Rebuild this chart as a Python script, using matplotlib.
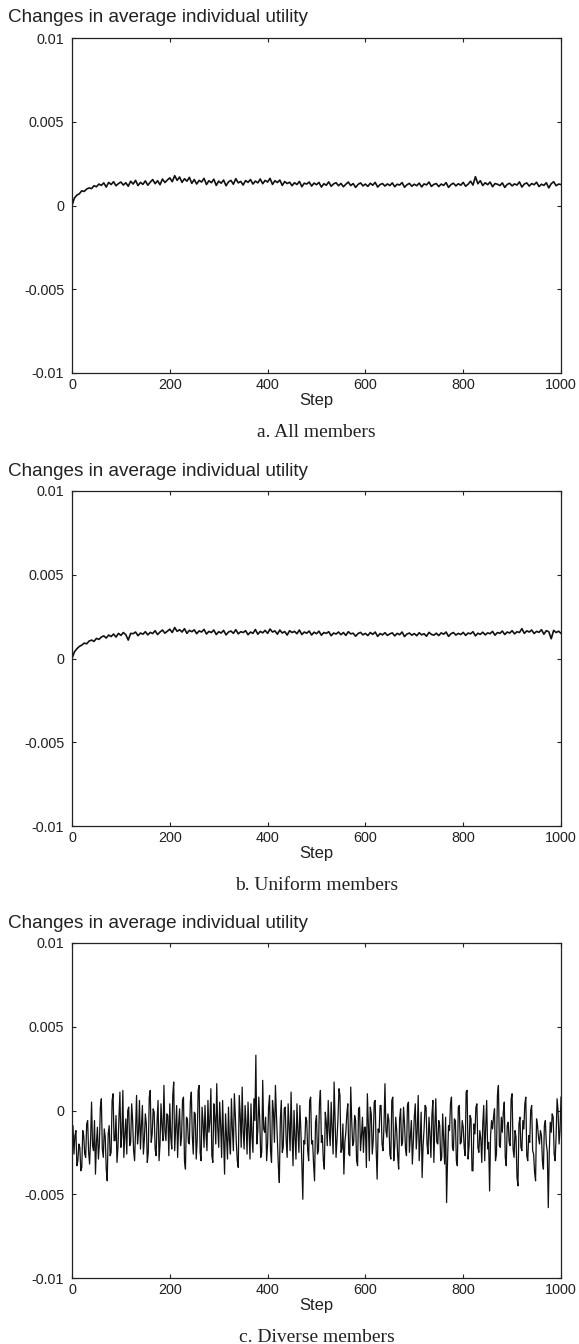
import numpy as np
import matplotlib
matplotlib.use("Agg")
import matplotlib.pyplot as plt

plt.rcParams['font.family'] = ['Liberation Sans', 'DejaVu Sans']

# values in units of 1e-5
all_members = [
    0, 45, 62, 70, 88, 84, 98, 105, 101, 118,
    112, 128, 120, 135, 110, 138, 125, 142, 118, 131,
    140, 122, 136, 115, 145, 128, 150, 119, 138, 126,
    147, 121, 139, 155, 130, 148, 124, 158, 137, 152,
    165, 142, 178, 150, 170, 138, 160, 145, 168, 132,
    155, 128, 150, 140, 162, 125, 148, 136, 157, 120,
    146, 133, 152, 118, 141, 150, 127, 160, 135, 144,
    122, 149, 138, 155, 128, 146, 135, 158, 130, 150,
    140, 162, 126, 148, 137, 152, 120, 143, 131, 139,
    118, 136, 125, 144, 112, 133, 128, 140, 116, 134,
    124, 138, 110, 130, 121, 141, 115, 129, 136, 118,
    132, 112, 127, 140, 119, 131, 108, 126, 135, 117,
    128, 114, 133, 121, 138, 110, 125, 131, 116, 129,
    119, 135, 112, 127, 122, 137, 109, 124, 132, 115,
    127, 118, 134, 111, 129, 123, 140, 114, 126, 131,
    113, 128, 120, 137, 108, 125, 133, 117, 130, 121,
    138, 115, 127, 145, 122, 172, 130, 148, 119, 136,
    124, 140, 112, 131, 127, 119, 135, 108, 126, 133,
    117, 129, 122, 141, 110, 128, 135, 116, 131, 124,
    139, 113, 127, 120, 136, 105, 130, 142, 118, 128,
    125,
]

uniform_members = [
    0, 40, 58, 72, 80, 92, 88, 104, 110, 102,
    120, 114, 128, 135, 122, 140, 131, 146, 128, 150,
    138, 155, 142, 110, 150, 148, 158, 136, 152, 145,
    160, 141, 156, 149, 166, 143, 158, 170, 151, 163,
    175, 155, 185, 162, 172, 158, 178, 150, 168, 160,
    171, 148, 165, 158, 174, 146, 162, 155, 170, 143,
    160, 152, 168, 141, 158, 164, 150, 172, 147, 160,
    155, 166, 142, 158, 150, 173, 145, 162, 153, 168,
    150, 176, 158, 165, 145, 170, 152, 161, 140, 166,
    155, 162, 148, 170, 143, 158, 151, 164, 140, 157,
    148, 163, 139, 155, 150, 160, 136, 152, 146, 158,
    142, 155, 138, 160, 147, 151, 133, 149, 156, 141,
    150, 137, 155, 144, 158, 132, 149, 141, 154, 138,
    147, 153, 135, 150, 142, 158, 131, 146, 152, 139,
    149, 136, 154, 141, 148, 133, 156, 144, 139, 151,
    137, 153, 145, 158, 132, 148, 155, 140, 150, 143,
    156, 138, 152, 147, 160, 135, 151, 144, 157, 141,
    153, 148, 162, 139, 155, 150, 164, 143, 158, 152,
    166, 147, 160, 155, 178, 150, 165, 158, 170, 149,
    162, 156, 172, 145, 166, 160, 118, 168, 155, 163,
    150,
]

diverse_members = [
    -180, -90, -260, -150, -120, -330, -300, -200, -220, -360,
    -340, -120, -150, -260, -280, -80, -60, -250, -320, -170,
    50, -210, -240, -60, -380, -190, -100, -290, -200, 20,
    70, -230, -280, -110, -160, -350, -420, -140, -90, -270,
    -250, 60, 100, -180, -180, -30, -310, -220, -40, 110,
    -220, -140, 120, -280, -150, -50, -260, 0, 20, -210,
    -190, 40, -60, -240, -300, -120, 90, -200, -130, 60,
    -230, -90, 30, -260, -170, -20, -80, -310, -250, 80,
    120, -190, -140, 10, -10, -230, -270, -60, 60, -300,
    -200, 40, -90, -180, 150, -120, -180, -20, -30, -270,
    40, -160, -230, 90, 170, -240, -110, 30, -280, -90,
    10, -210, -160, 60, 80, -300, -350, -40, -50, -190,
    -200, 50, 110, -150, -260, -10, -20, -290, -180, 120,
    150, -250, -300, 20, -70, -220, 30, -140, -240, 60,
    -130, -60, 130, -270, -310, 40, -40, -200, 160, -100,
    -220, 50, -90, -280, 60, -150, -380, -20, -150, -290,
    20, -180, -260, 70, -110, -240, 100, -30, -190, -300,
    -340, 90, -30, -220, 140, -120, -230, 30, -80, -260,
    50, -120, -290, 40, -150, -250, 70, -60, 330, -200,
    -120, 80, -60, -280, -250, 180, -110, -130, -40, -300,
    -200, 20, 90, -240, -310, 60, -10, -190, 150, -20,
    -170, -330, -430, -60, 60, -250, -220, 10, 20, -180,
    -280, 40, -90, -240, 110, -140, -330, 0, -160, -290,
    40, -120, -250, 30, -120, -310, -530, -180, -200, -40,
    -60, -240, -300, 60, 80, -200, -180, -320, -420, -70,
    -30, -260, -240, 40, 120, -190, -150, -300, -350, -10,
    -70, -210, 60, -120, -210, 50, -110, -260, 170, -60,
    -280, -170, -40, 130, 90, -250, -230, -80, -380, -190,
    -130, -20, 40, -260, -270, 140, -60, -210, -190, -30,
    -60, -300, -330, 10, 20, -240, -150, -40, -250, -100,
    -100, -340, 100, -80, -300, 20, -20, -260, -180, 50,
    60, -230, -410, -110, -130, 30, 30, -200, -240, -90,
    160, -120, -160, -20, -60, -260, -290, 60, 80, -300,
    -210, -40, -120, -270, -350, -50, 10, -210, -190, 20,
    -80, -230, -270, 30, 50, -250, -150, -60, -320, -190,
    -40, 40, -230, -120, 90, -300, -180, -10, -400, -210,
    -110, 30, 20, -200, -260, -40, -140, -280, -30, 60,
    -310, -100, 70, -190, -200, -60, -90, -300, -280, -20,
    -170, -320, -40, -550, -300, -90, -120, 40, 80, -220,
    -240, -50, -60, -300, -330, 20, 30, -200, -190, -60,
    -100, -220, -270, 110, 120, -290, -210, -30, -50, -360,
    -360, -80, -140, 20, 40, -220, -250, -120, -170, -310,
    -80, 30, -300, -100, 60, -230, -190, -480, -150, -60,
    -110, -40, 10, -300, -260, 90, 150, -210, -220, -40,
    -130, -10, 50, -280, -330, -90, -70, -190, -210, 70,
    100, -230, -280, -120, -160, -400, -450, -80, -40, -220,
    -240, -60, -110, 40, 80, -270, -300, -150, -190, 0,
    30, -240, -260, -370, -420, -50, -90, -160, -200, -120,
    -150, -300, -350, -90, -60, -200, -250, -580, -250, -70,
    -130, -20, -40, -260, -300, -150, 70, 0, -200, -120,
    80,
]

series = [all_members, uniform_members, diverse_members]
widths = [1.2, 1.2, 0.9]
captions = ['a. All members', 'b. Uniform members', 'c. Diverse members']
title = 'Changes in average individual utility'
xticks = [0, 200, 400, 600, 800, 1000]
yticks = [-0.01, -0.005, 0, 0.005, 0.01]
yticklabels = ['-0.01', '-0.005', '0', '0.005', '0.01']

W, H = 579, 1344
fig = plt.figure(figsize=(W / 100, H / 100), dpi=100)
tops = [38, 491, 943]
for k in range(3):
    top = tops[k]
    ax = fig.add_axes([72 / W, 1 - (top + 335) / H, 489 / W, 335 / H])
    vals = np.array(series[k]) * 1e-5
    steps = np.linspace(0, 1000, len(vals))
    ax.plot(steps, vals, color='#111111', lw=widths[k])
    ax.set_xlim(0, 1000)
    ax.set_ylim(-0.01, 0.01)
    ax.set_xticks(xticks)
    ax.set_xticklabels([str(t) for t in xticks])
    ax.set_yticks(yticks)
    ax.set_yticklabels(yticklabels)
    ax.tick_params(direction='in', length=3, width=0.8, top=True, right=True,
                   labelsize=10.4, colors='#222222')
    ax.tick_params(axis='x', pad=3.5)
    ax.tick_params(axis='y', pad=5.5)
    for s in ax.spines.values():
        s.set_linewidth(0.9)
        s.set_color('#222222')
    ax.annotate('Step', xy=(0.5, 0), xycoords='axes fraction', xytext=(0, -19.5),
                textcoords='offset points', ha='center', va='center', fontsize=12,
                color='#222222')
    ax.annotate(captions[k], xy=(0.5, 0), xycoords='axes fraction', xytext=(0, -42.5),
                textcoords='offset points', ha='center', va='center', fontsize=14,
                family=['Liberation Serif', 'DejaVu Serif'], color='#222222')
    fig.text(8 / W, 1 - (top - 20) / H, title, ha='left', va='center', fontsize=13.6,
             color='#222222')

fig.savefig('out.png', dpi=100)
